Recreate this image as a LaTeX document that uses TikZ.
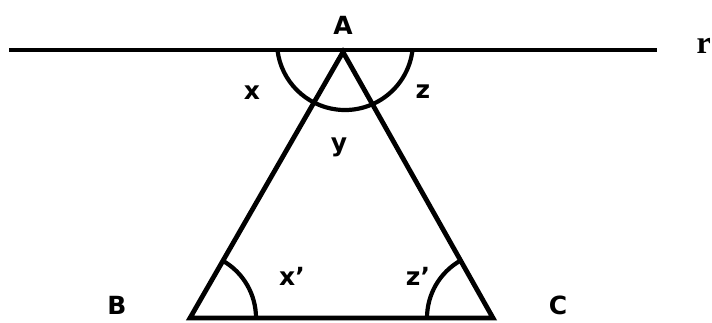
\documentclass[tikz,border=0pt]{standalone}
\usepackage{fontspec}
\setmainfont{DejaVu Sans}
\newfontfamily\letrar{Liberation Serif}
\usetikzlibrary{positioning, calc}

\begin{document}
\begin{tikzpicture}[x=1pt, y=-1pt]
		% Configuración de estilo para lados, arcos y etiquetas
		\tikzset{
			lado/.style={
					draw, line width=4.8pt
				},
			arco/.style={
					draw, line width=4.2pt
				},
			etiqueta/.style={
					font=\fontsize{25}{30}\selectfont\bfseries, inner sep=0pt
				}
		}
		\useasboundingbox (0,0) rectangle (712,322);

		% Vértices del triángulo y extremos de la recta r
		\coordinate (A) at (343,52);
		\coordinate (B) at (190,318);
		\coordinate (C) at (493,318);
		\coordinate (r1) at (9,50);
		\coordinate (r2) at (657,50);

		% Recta r y triángulo
		\draw[lado] (r1) -- (r2);
		\draw[lado] (A) -- (B) -- (C) -- cycle;

		% Arcos de los ángulos
		\draw[arco] (412.5,50) arc[start angle=6.75, end angle=173.25, radius=68];
		\draw[arco] ($(B)+(66,0)$) arc[start angle=0, end angle=-60.1, radius=66];
		\draw[arco] ($(C)+(-66,0)$) arc[start angle=180, end angle=240.6, radius=66];

		% Etiquetas
		\node[etiqueta] (lA) at (343,25) {A};
		\node[etiqueta] (lB) at (117,305) {B};
		\node[etiqueta] (lC) at (558,305) {C};
		\node[etiqueta] (lx) at (252,93) {x};
		\node[etiqueta] (ly) at (339,147) {y};
		\node[etiqueta] (lz) at (423,92) {z};
		\node[etiqueta] (lx2) at (292,276) {x'};
		\node[etiqueta] (lz2) at (418,276) {z'};
		\node[etiqueta, anchor=east, font=\fontsize{32}{36}\selectfont\letrar\bfseries] (lr) at (711,46) {r};
	\end{tikzpicture}
\end{document}
